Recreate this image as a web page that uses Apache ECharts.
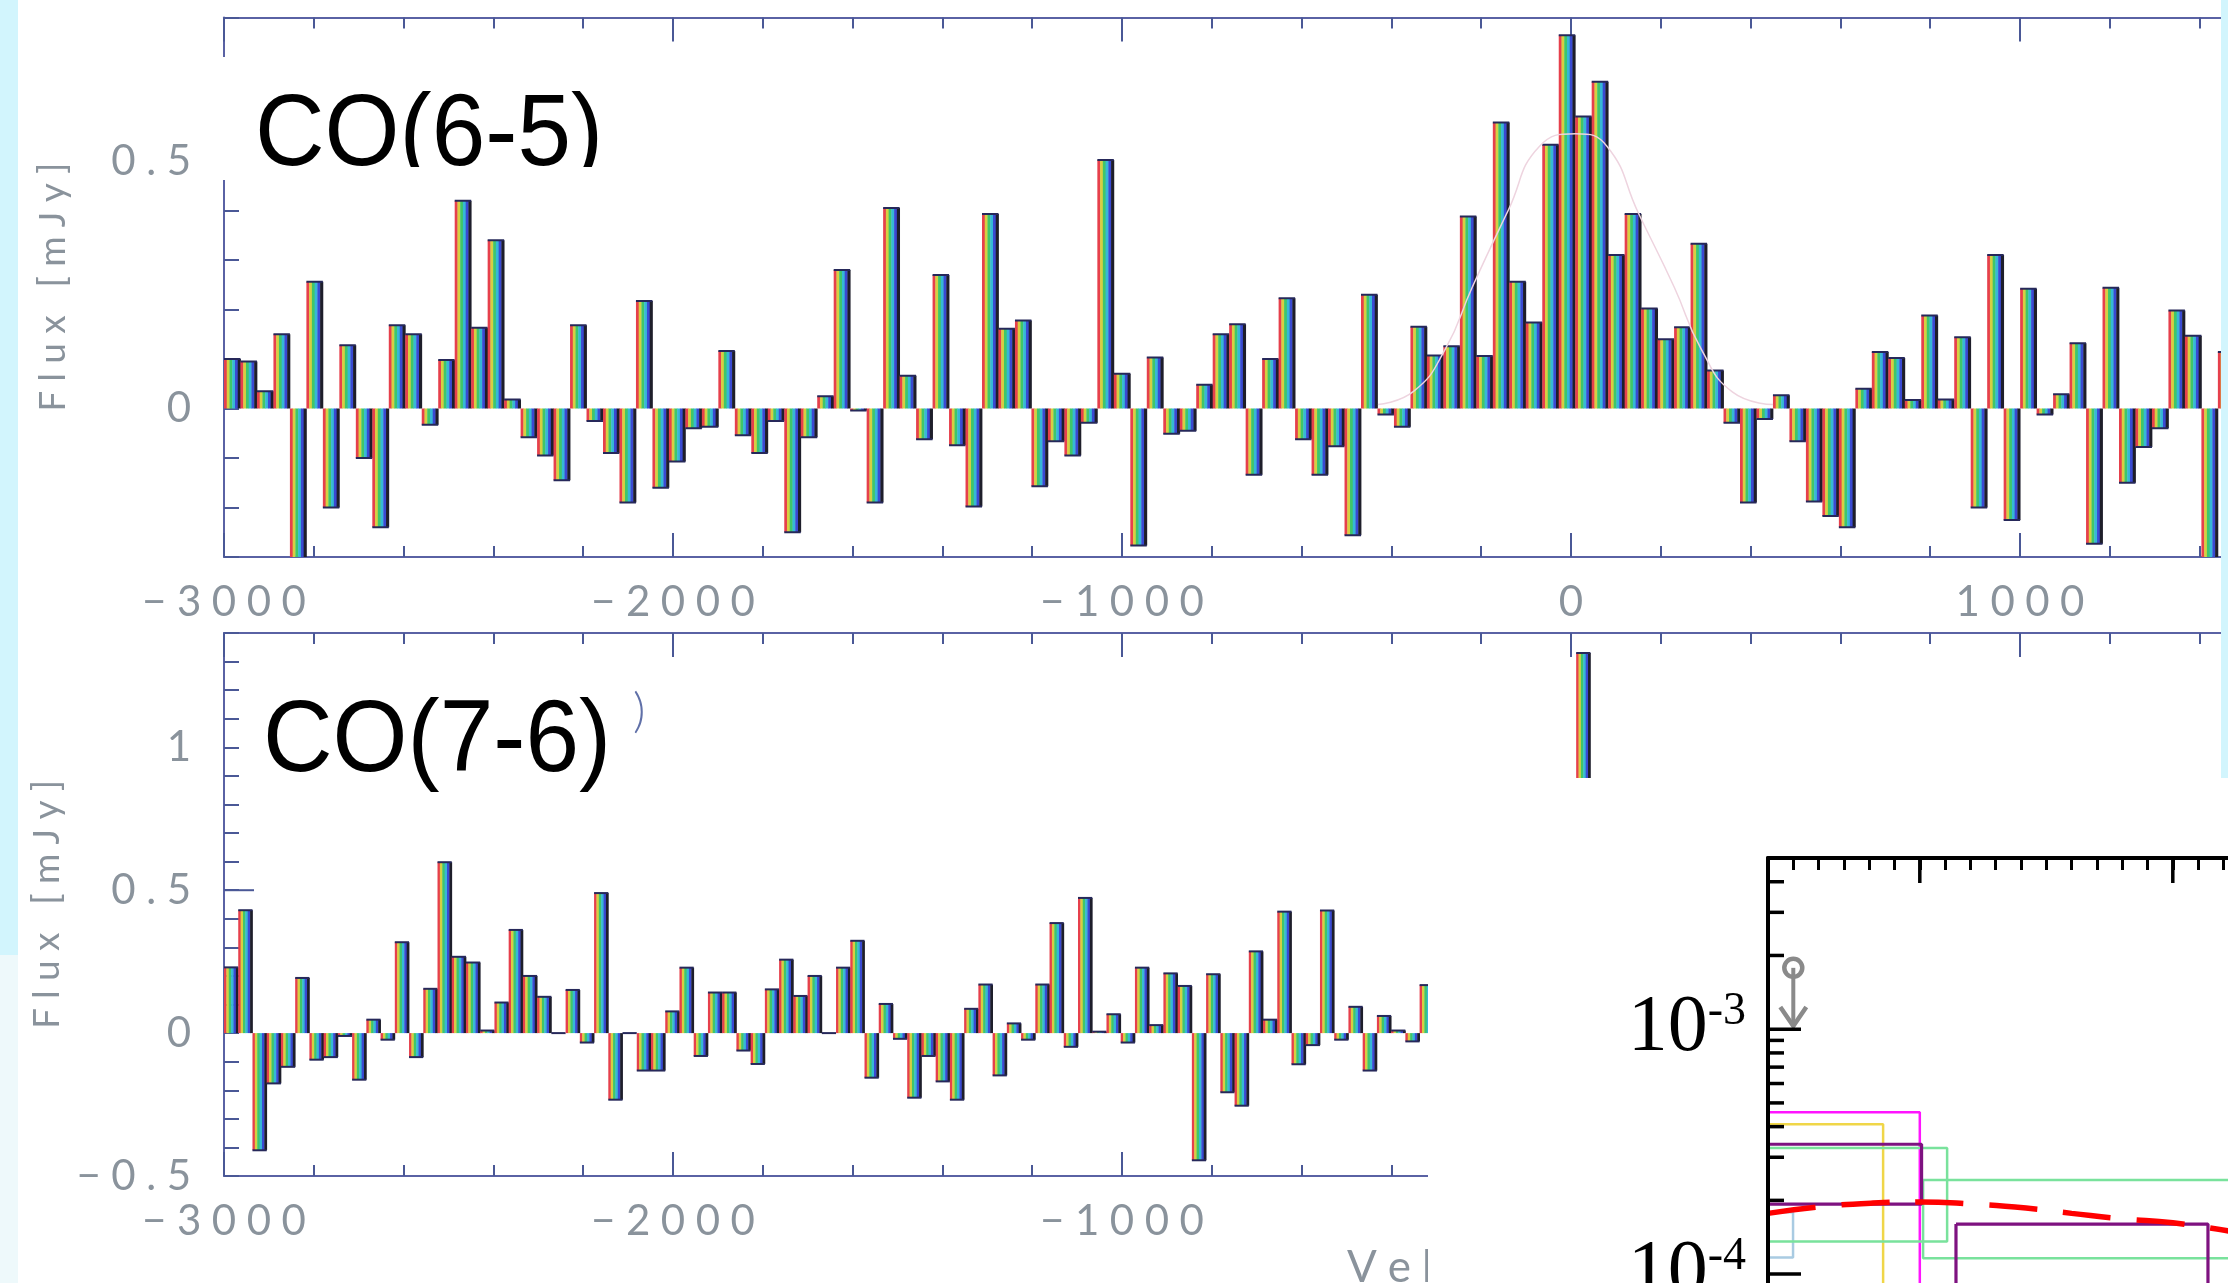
<!DOCTYPE html>
<html>
<head>
<meta charset="utf-8">
<script src="https://cdn.jsdelivr.net/npm/echarts@6/dist/echarts.min.js"></script>
<style>
  html, body { margin: 0; padding: 0; background: #ffffff; }
  #chart { width: 2228px; height: 1283px; }
</style>
</head>
<body>
<div id="chart"></div>
<script>
// ---------------- Data ----------------
// Velocity axis (km/s)
const velMin = -3000;
const velMax = 3000;

// CO(6-5) spectrum: first channel edge, channel width (km/s), flux per channel (mJy)
const co65Start = -3000;
const co65Width = 36.7;
const co65Flux = [
  0.10, 0.095, 0.035, 0.15, -0.32, 0.256, -0.20, 0.128, -0.10, -0.24,
  0.168, 0.15, -0.033, 0.098, 0.42, 0.163, 0.34, 0.018, -0.058, -0.095,
  -0.145, 0.168, -0.025, -0.09, -0.19, 0.217, -0.16, -0.107, -0.04, -0.037,
  0.116, -0.054, -0.09, -0.025, -0.25, -0.058, 0.025, 0.28, -0.004, -0.19,
  0.405, 0.066, -0.062, 0.27, -0.074, -0.198, 0.393, 0.161, 0.178, -0.157,
  -0.066, -0.095, -0.029, 0.502, 0.07, -0.277, 0.103, -0.051, -0.045, 0.048,
  0.15, 0.17, -0.134, 0.10, 0.223, -0.062, -0.134, -0.076, -0.256, 0.23,
  -0.012, -0.037, 0.165, 0.107, 0.126, 0.388, 0.106, 0.578, 0.256, 0.174,
  0.533, 0.754, 0.59, 0.66, 0.31, 0.393, 0.202, 0.14, 0.164, 0.333,
  0.077, -0.029, -0.19, -0.021, 0.027, -0.066, -0.188, -0.217, -0.24, 0.04,
  0.114, 0.102, 0.017, 0.188, 0.018, 0.144, -0.2, 0.31, -0.225, 0.242,
  -0.012, 0.029, 0.132, -0.273, 0.244, -0.15, -0.078, -0.04, 0.198, 0.147,
  -0.32, 0.114
];

// Gaussian fit to the CO(6-5) line
const co65FitVel  = [-430, -350, -280, -220, -140, -70, 10, 80, 150, 230, 290, 360, 450];
const co65FitFlux = [0.008, 0.035, 0.12, 0.245, 0.40, 0.53, 0.555, 0.53, 0.395, 0.245, 0.12, 0.033, 0.008];

// CO(7-6) spectrum
const co76Start = -3000;
const co76Width = 31.7;
const co76Flux = [
  0.23, 0.43, -0.41, -0.176, -0.118, 0.193, -0.093, -0.084, -0.01, -0.163,
  0.047, -0.023, 0.318, -0.084, 0.155, 0.598, 0.267, 0.247, 0.009, 0.107,
  0.361, 0.2, 0.127, 0.0, 0.151, -0.033, 0.49, -0.233, 0.0, -0.131,
  -0.131, 0.076, 0.229, -0.08, 0.142, 0.142, -0.061, -0.108, 0.153, 0.257,
  0.13, 0.2, 0.0, 0.229, 0.323, -0.156, 0.102, -0.02, -0.226, -0.08,
  -0.169, -0.233, 0.085, 0.17, -0.148, 0.034, -0.023, 0.17, 0.385, -0.048,
  0.473, 0.005, 0.066, -0.033, 0.229, 0.028, 0.209, 0.165, -0.445, 0.206,
  -0.207, -0.254, 0.286, 0.047, 0.425, -0.109, -0.042, 0.429, -0.023, 0.092,
  -0.131, 0.06, 0.009, -0.029, 0.168,
  null, null, null, null, null, null, null, null, null, null,
  1.33
];
const co76LongTicks = [0.5];

// Molecular gas density panel (log axis)
const omegaXMin = 0.4;
const omegaXMax = 2.6;
const omegaYMin = 1e-5;
const omegaYMax = 5e-3;
const omegaXMajorTicks = [1, 2];
const omegaYMajorTicks = [1e-4, 1e-3];
const omegaYMinorTicks = [2e-4, 3e-4, 4e-4, 5e-4, 6e-4, 7e-4, 8e-4, 9e-4, 2e-3, 3e-3, 4e-3];

// Redshift-bin boxes: lower/upper bin edge and lower/upper density
const boxNames = ['lightblue', 'yellow', 'magenta', 'greenA', 'greenB', 'purpleA', 'purpleB'];
const boxXLow  = [0.3, 0.3, 0.3, 0.3, 1.013, 0.3, 1.143];
const boxXHigh = [0.499, 0.855, 1.0, 1.108, 2.8, 1.007, 2.139];
const boxYLow  = [1.17e-4, 6e-5, 6e-5, 1.36e-4, 1.16e-4, 1.93e-4, 6e-5];
const boxYHigh = [1.79e-4, 4.09e-4, 4.58e-4, 3.27e-4, 2.42e-4, 3.39e-4, 1.60e-4];

// Model prediction (dashed)
const modelX = [0.4, 0.6, 0.815, 1.0, 1.21, 1.42, 1.6, 1.8, 2.0, 2.22];
const modelY = [1.77e-4, 1.88e-4, 1.95e-4, 1.97e-4, 1.93e-4, 1.86e-4, 1.77e-4, 1.68e-4, 1.62e-4, 1.50e-4];

// Upper limit: position and arrow end
const limitX = [0.5];
const limitY = [1.78e-3];
const limitTo = [1.03e-3];

// ---------------- Styles ----------------
const BOX_COLORS = {
  lightblue: '#a9cbe2', yellow: '#f0d648', magenta: '#ff14ff',
  greenA: '#79e29c', greenB: '#79e29c', purpleA: '#7e1280', purpleB: '#7e1280'
};
const BOX_WIDTHS = { lightblue: 2.5, yellow: 2.5, magenta: 2.5, greenA: 2.5, greenB: 2.5, purpleA: 3.2, purpleB: 3.2 };
const STRIPE_COLORS = ['#e6404c', '#d6cf42', '#3fc66a', '#36b8d6', '#3a4ad2', '#1e1e2a'];
const EDGE_COLOR = '#26285a';
const AXIS_COLOR = '#5a62a4';
const TICK_COLOR = '#4a5896';
const LABEL_COLOR = '#8a939c';
const LABEL_FONT = 'Lato';
const GAP = '\u2005';

function spaced(s) {
  return String(s).replace('-', '\u2212').split('').join(GAP);
}
function velLabel(v) {
  return spaced(String(Math.round(v)));
}
function fluxLabel(v) {
  const n = Math.round(v * 10) / 10;
  if (Math.abs(n * 2 - Math.round(n * 2)) > 1e-6) return '';
  return spaced(n === 0 ? '0' : String(n));
}
function powerLabel(v) {
  const e = Math.round(Math.log10(v));
  if (Math.abs(v / Math.pow(10, e) - 1) > 1e-6) return '';
  return '{b|10}{s|' + e + '}';
}

function channelData(start, width, flux) {
  const out = [];
  flux.forEach((f, i) => {
    if (f !== null) out.push([start + (i + 0.5) * width, f]);
  });
  return out;
}

// Each channel is drawn as a striped bar from zero to its flux, with a dark top edge
function stripeBars(width) {
  return function (params, api) {
    const v = api.value(0);
    const f = api.value(1);
    const a = api.coord([v - width / 2, 0]);
    const b = api.coord([v + width / 2, f]);
    const top = Math.min(a[1], b[1]);
    const h = Math.abs(b[1] - a[1]);
    const w = (b[0] - a[0]) / STRIPE_COLORS.length;
    const children = [];
    if (h > 0.5) {
      STRIPE_COLORS.forEach((c, k) => {
        children.push({
          type: 'rect',
          shape: { x: a[0] + k * w, y: top, width: w + 0.4, height: h },
          style: { fill: c }
        });
      });
    }
    children.push({
      type: 'line',
      shape: { x1: a[0], y1: b[1], x2: b[0], y2: b[1] },
      style: { stroke: EDGE_COLOR, lineWidth: 2 }
    });
    return { type: 'group', children };
  };
}

function velAxis(gridIndex, position, withLabels, name) {
  const ax = {
    type: 'value', gridIndex, position, min: velMin, max: velMax, interval: 1000,
    axisLine: { show: true, onZero: false, lineStyle: { color: AXIS_COLOR, width: 2 } },
    axisTick: { show: true, inside: true, length: 24, lineStyle: { color: TICK_COLOR, width: 2 } },
    minorTick: { show: true, splitNumber: 5, length: 11, lineStyle: { color: TICK_COLOR, width: 2 } },
    splitLine: { show: false }, minorSplitLine: { show: false },
    axisLabel: {
      show: withLabels, margin: 23, formatter: velLabel, fontFamily: LABEL_FONT,
      fontWeight: 'normal', fontSize: 42, lineHeight: 44, color: LABEL_COLOR
    }
  };
  if (name) {
    ax.name = spaced(name);
    ax.nameLocation = 'middle';
    ax.nameGap = 70;
    ax.nameTextStyle = { fontFamily: LABEL_FONT, fontWeight: 'normal', fontSize: 44, color: LABEL_COLOR };
  }
  return ax;
}

function fluxAxis(gridIndex, min, max) {
  return {
    type: 'value', gridIndex, position: 'left', min, max, interval: 0.1,
    axisLine: { show: true, onZero: false, lineStyle: { color: AXIS_COLOR, width: 2 } },
    axisTick: { show: true, inside: true, length: 15, lineStyle: { color: TICK_COLOR, width: 2 } },
    splitLine: { show: false },
    axisLabel: {
      margin: 33, formatter: fluxLabel, fontFamily: LABEL_FONT, fontWeight: 'normal',
      fontSize: 42, lineHeight: 44, color: LABEL_COLOR
    },
    name: spaced('Flux [mJy]'), nameLocation: 'middle', nameRotate: 90, nameGap: 152,
    nameTextStyle: { fontFamily: LABEL_FONT, fontWeight: 'normal', fontSize: 37, color: LABEL_COLOR }
  };
}

const boxSeries = boxNames.map((nm, i) => ({
  type: 'line', name: nm, xAxisIndex: 4, yAxisIndex: 2, zlevel: 1, z: 7,
  data: [
    [boxXLow[i], boxYHigh[i]], [boxXHigh[i], boxYHigh[i]],
    [boxXHigh[i], boxYLow[i]], [boxXLow[i], boxYLow[i]], [boxXLow[i], boxYHigh[i]]
  ],
  symbol: 'none', showSymbol: false, silent: true, clip: true,
  lineStyle: { color: BOX_COLORS[nm], width: BOX_WIDTHS[nm] }
}));

const option = {
  animation: false,
  backgroundColor: '#ffffff',
  grid: [
    { left: 224, top: 17.5, width: 2694, height: 539.5, outerBoundsMode: 'none', containLabel: false },
    { left: 224, top: 633, width: 2694, height: 543, outerBoundsMode: 'none', containLabel: false },
    { left: 1768, top: 858, width: 556.6, height: 661, outerBoundsMode: 'none', containLabel: false },
    { left: 220, top: 57, width: 425, height: 110, outerBoundsMode: 'none', containLabel: false }
  ],
  xAxis: [
    velAxis(0, 'bottom', true),
    velAxis(0, 'top', false),
    velAxis(1, 'bottom', true, 'Velocity [km/s]'),
    velAxis(1, 'top', false),
    {
      type: 'value', gridIndex: 2, position: 'top', min: omegaXMin, max: omegaXMax, interval: 0.1,
      zlevel: 1, z: 9,
      axisLine: { show: true, onZero: false, lineStyle: { color: '#000', width: 4 } },
      axisTick: { show: true, inside: true, length: 12, lineStyle: { color: '#000', width: 3 } },
      axisLabel: { show: false }, splitLine: { show: false }
    },
    { type: 'value', gridIndex: 3, min: 0, max: 1, show: false }
  ],
  yAxis: [
    fluxAxis(0, -0.3, 0.79),
    fluxAxis(1, -0.5, 1.4),
    {
      type: 'log', logBase: 10, gridIndex: 2, position: 'left', min: omegaYMin, max: omegaYMax,
      zlevel: 1, z: 9,
      axisLine: { show: true, onZero: false, lineStyle: { color: '#000', width: 4 } },
      axisTick: { show: false }, splitLine: { show: false }, minorTick: { show: false },
      axisLabel: {
        margin: 22, formatter: powerLabel,
        rich: {
          b: { fontFamily: 'Liberation Serif', fontSize: 80, lineHeight: 80, color: '#000' },
          s: { fontFamily: 'Liberation Serif', fontSize: 46, lineHeight: 46, color: '#000', verticalAlign: 'top' }
        }
      }
    },
    { type: 'value', gridIndex: 3, min: 0, max: 1, show: false }
  ],
  graphic: [
    { type: 'rect', shape: { x: 0, y: 0, width: 18, height: 955 }, style: { fill: '#d2f5fd' }, z: 20, silent: true },
    { type: 'rect', shape: { x: 0, y: 955, width: 18, height: 328 }, style: { fill: '#eef9fb' }, z: 20, silent: true },
    { type: 'rect', shape: { x: 2221, y: 0, width: 7, height: 778 }, style: { fill: '#d2f5fd' }, z: 20, silent: true },
    {
      type: 'text', x: 263, y: 742.5, scaleX: 0.945, z: 20, silent: true,
      style: { text: 'CO(7-6)', fontFamily: 'Liberation Sans', fontSize: 102, fill: '#000', verticalAlign: 'middle' }
    },
    {
      type: 'text', x: 633, y: 712, z: 20, silent: true,
      style: { text: ')', fontFamily: LABEL_FONT, fontWeight: 300, fontSize: 48, fill: '#6070a8', verticalAlign: 'middle' }
    },
    {
      type: 'text', x: 636, y: 93, zlevel: 1, z: 0, silent: true,
      style: { text: ')', fontFamily: LABEL_FONT, fontWeight: 300, fontSize: 40, fill: '#4cd4e6', verticalAlign: 'middle' }
    },
    { type: 'rect', shape: { x: 220, y: 57, width: 425, height: 123 }, style: { fill: '#ffffff' }, zlevel: 1, z: 1, silent: true },
    // trims the lower edge of the CO(6-5) title
    { type: 'rect', shape: { x: 245, y: 167, width: 400, height: 30 }, style: { fill: '#ffffff' }, zlevel: 1, z: 5, silent: true },
    { type: 'rect', shape: { x: 1428, y: 778, width: 800, height: 505 }, style: { fill: '#ffffff' }, zlevel: 1, z: 0, silent: true }
  ],
  series: [
    {
      type: 'custom', name: 'CO(6-5)', xAxisIndex: 0, yAxisIndex: 0, clip: true, silent: true, z: 2,
      data: channelData(co65Start, co65Width, co65Flux),
      renderItem: stripeBars(co65Width)
    },
    {
      type: 'line', name: 'fit', xAxisIndex: 0, yAxisIndex: 0, z: 3, silent: true,
      data: co65FitVel.map((v, i) => [v, co65FitFlux[i]]),
      smooth: true, symbol: 'none', showSymbol: false,
      lineStyle: { color: '#eed4df', width: 1.5 }
    },
    {
      type: 'custom', name: 'CO(7-6)', xAxisIndex: 2, yAxisIndex: 1, clip: true, silent: true, z: 2,
      data: channelData(co76Start, co76Width, co76Flux),
      renderItem: stripeBars(co76Width)
    },
    {
      type: 'custom', name: 'co76-long-ticks', xAxisIndex: 2, yAxisIndex: 1, silent: true, z: 3,
      data: co76LongTicks.map(v => [velMin, v]),
      renderItem: (params, api) => {
        const c = api.coord([api.value(0), api.value(1)]);
        return { type: 'line', shape: { x1: c[0], y1: c[1], x2: c[0] + 30, y2: c[1] }, style: { stroke: TICK_COLOR, lineWidth: 2 } };
      }
    },
    {
      type: 'custom', name: 'CO(6-5) label', xAxisIndex: 5, yAxisIndex: 3, clip: true, silent: true,
      zlevel: 1, z: 3, data: [[0, 1]],
      renderItem: (params, api) => {
        const o = api.coord([api.value(0), api.value(1)]);
        return {
          type: 'text', x: o[0] + 35, y: o[1] + 80, scaleX: 0.945,
          style: { text: 'CO(6-5)', fontFamily: 'Liberation Sans', fontSize: 102, fill: '#000', verticalAlign: 'middle' }
        };
      }
    },
    ...boxSeries,
    {
      type: 'line', name: 'model', xAxisIndex: 4, yAxisIndex: 2, zlevel: 1, z: 8, silent: true,
      data: modelX.map((x, i) => [x, modelY[i]]),
      smooth: true, symbol: 'none', showSymbol: false,
      lineStyle: { color: '#ff0000', width: 5.5, type: [48, 26] }
    },
    {
      type: 'custom', name: 'upper limit', xAxisIndex: 4, yAxisIndex: 2, zlevel: 1, z: 8, silent: true,
      data: limitX.map((x, i) => [x, limitY[i], limitTo[i]]),
      renderItem: (params, api) => {
        const c = api.coord([api.value(0), api.value(1)]);
        const t = api.coord([api.value(0), api.value(2)]);
        const gray = '#8a8a8a';
        return {
          type: 'group',
          children: [
            { type: 'circle', shape: { cx: c[0], cy: c[1], r: 9 }, style: { fill: 'none', stroke: gray, lineWidth: 4.5 } },
            { type: 'line', shape: { x1: c[0], y1: c[1], x2: t[0], y2: t[1] }, style: { stroke: gray, lineWidth: 4 } },
            { type: 'polyline', shape: { points: [[t[0] - 13, t[1] - 19], [t[0], t[1]], [t[0] + 13, t[1] - 19]] }, style: { fill: 'none', stroke: gray, lineWidth: 4.5 } }
          ]
        };
      }
    },
    {
      type: 'custom', name: 'log ticks', xAxisIndex: 4, yAxisIndex: 2, zlevel: 1, z: 9, silent: true,
      data: omegaYMajorTicks.map(v => [v, 1]).concat(omegaYMinorTicks.map(v => [v, 0])),
      renderItem: (params, api) => {
        const p = api.coord([omegaXMin, api.value(0)]);
        const len = api.value(1) ? 33 : 16;
        return { type: 'line', shape: { x1: p[0], y1: p[1], x2: p[0] + len, y2: p[1] }, style: { stroke: '#000', lineWidth: 3.5 } };
      }
    },
    {
      type: 'custom', name: 'x major ticks', xAxisIndex: 4, yAxisIndex: 2, zlevel: 1, z: 9, silent: true,
      data: omegaXMajorTicks.map(x => [x, omegaYMax]),
      renderItem: (params, api) => {
        const p = api.coord([api.value(0), api.value(1)]);
        return { type: 'line', shape: { x1: p[0], y1: p[1], x2: p[0], y2: p[1] + 25 }, style: { stroke: '#000', lineWidth: 3.5 } };
      }
    }
  ]
};

const chart = echarts.init(document.getElementById('chart'), null, { renderer: 'canvas' });
chart.setOption(option);
</script>
</body>
</html>
